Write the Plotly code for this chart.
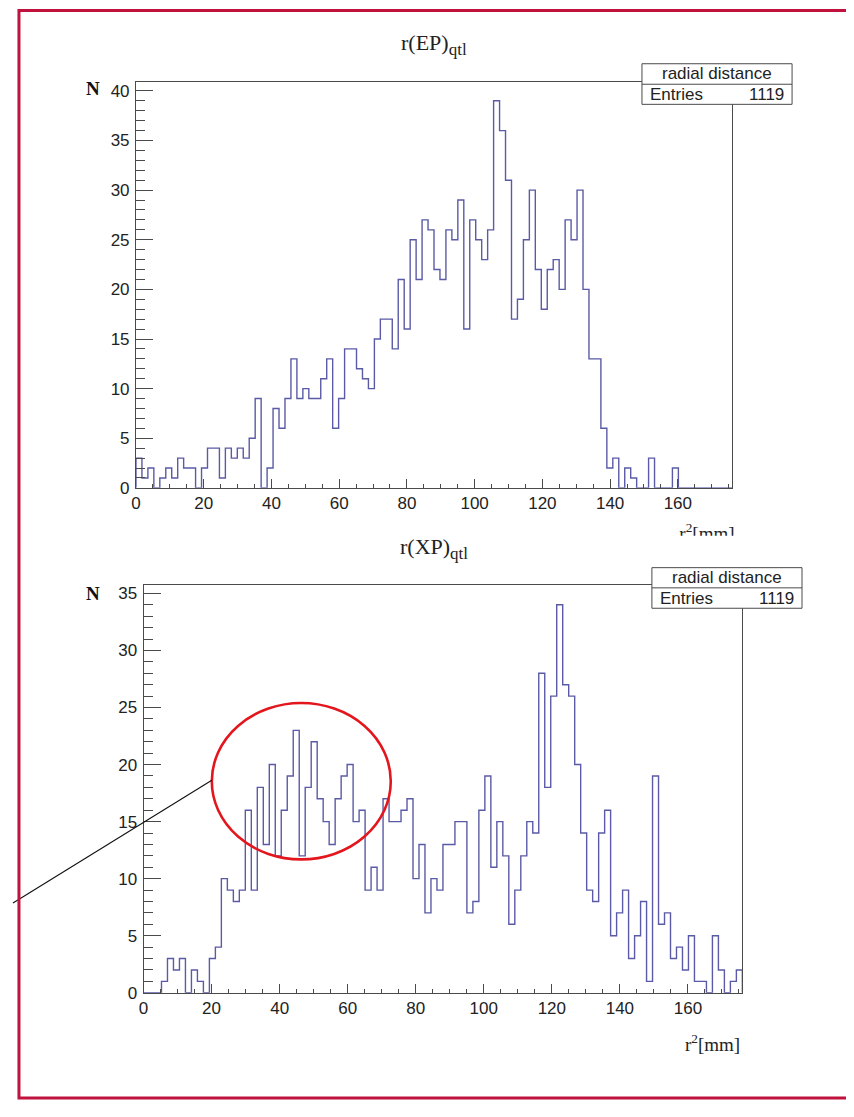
import plotly.graph_objects as go

# ---------------- data ----------------
n_bins = 100
x_min, x_max = 0.0, 176.0

ep_counts = [3, 1, 2, 0, 1, 2, 1, 3, 2, 2,
             0, 2, 4, 4, 1, 4, 3, 4, 3, 5,
             9, 0, 2, 8, 6, 9, 13, 9, 10, 9,
             9, 11, 13, 6, 9, 14, 14, 12, 11, 10,
             15, 17, 17, 14, 21, 16, 25, 21, 27, 26,
             22, 21, 26, 25, 29, 16, 27, 25, 23, 26,
             39, 36, 31, 17, 19, 25, 30, 22, 18, 22,
             23, 20, 27, 25, 30, 20, 13, 13, 6, 2,
             3, 0, 2, 1, 0, 0, 3, 0, 0, 0,
             2, 0, 0, 0, 0, 0, 0, 0, 0, 0]

xp_counts = [0, 0, 0, 1, 3, 2, 3, 0, 2, 1,
             0, 3, 4, 10, 9, 8, 9, 16, 9, 18,
             13, 20, 12, 16, 19, 23, 12, 18, 22, 17,
             15, 13, 17, 19, 20, 15, 16, 9, 11, 9,
             17, 15, 15, 16, 17, 10, 13, 7, 10, 9,
             13, 13, 15, 15, 7, 8, 16, 19, 11, 15,
             12, 6, 9, 12, 15, 14, 28, 18, 26, 34,
             27, 26, 20, 14, 9, 8, 14, 16, 5, 7,
             9, 3, 5, 8, 1, 19, 6, 7, 3, 4,
             2, 5, 1, 1, 0, 5, 2, 0, 1, 2]

titles = ["r(EP)", "r(XP)"]
title_sub = "qtl"
stat_name = "radial distance"
entries = 1119
x_ticks = [0, 20, 40, 60, 80, 100, 120, 140, 160]
ep_yticks = [0, 5, 10, 15, 20, 25, 30, 35, 40]
xp_yticks = [0, 5, 10, 15, 20, 25, 30, 35]

# ---------------- helpers ----------------
OFF = 8                      # default page body margin
W, H = 854 - OFF, 1117 - 2 * OFF
def px(x):
    return (x - OFF) / W
def py(y):
    return 1 - (y - OFF) / H

width = (x_max - x_min) / n_bins
edges = [x_min + i * width for i in range(n_bins + 1)]

def outline(counts):
    xs = [edges[0]] + edges[:-1] + [edges[-1], edges[-1]]
    ys = [0] + list(counts) + [counts[-1], 0]
    return xs, ys

line_col = "#5a5aa6"
axis_col = "#4a4a4a"
tick_font = dict(family="Liberation Sans, Arial, sans-serif", size=17, color="#222")
serif = "Liberation Serif, DejaVu Serif, serif"

fig = go.Figure()

for k, counts in enumerate([ep_counts, xp_counts]):
    xs, ys = outline(counts)
    fig.add_trace(go.Scatter(x=xs, y=ys, mode="lines", line=dict(color=line_col, width=1.4, shape="hv"),
                             xaxis="x" if k == 0 else "x2", yaxis="y" if k == 0 else "y2",
                             showlegend=False, hoverinfo="skip"))

xlabel = "r<sup>2</sup>[mm]"

# clipped (half-hidden) x label of the upper plot
fig.add_trace(go.Scatter(x=[0.51], y=[0.0], mode="text", text=[xlabel],
                         textfont=dict(family=serif, size=19, color="#222"),
                         textposition="middle center", cliponaxis=True,
                         xaxis="x3", yaxis="y3", showlegend=False, hoverinfo="skip"))

def xax(domain):
    return dict(domain=domain, range=[x_min, x_max], tickmode="array", tickvals=x_ticks,
                ticks="inside", ticklen=9, tickcolor=axis_col, tickwidth=1,
                minor=dict(dtick=5, tick0=0, ticks="inside", ticklen=4, tickcolor=axis_col),
                showline=True, linecolor=axis_col, linewidth=1, mirror=True,
                showgrid=False, zeroline=False, tickfont=tick_font, fixedrange=True)

def yax(domain, ymax, tv, anchor):
    return dict(domain=domain, range=[0, ymax], tickmode="array", tickvals=tv,
                ticks="inside", ticklen=17, tickcolor=axis_col, tickwidth=1,
                minor=dict(dtick=1, tick0=0, ticks="inside", ticklen=9, tickcolor=axis_col),
                showline=True, linecolor=axis_col, linewidth=1, mirror=True,
                showgrid=False, zeroline=False, tickfont=tick_font, anchor=anchor,
                ticklabelstandoff=2, fixedrange=True)

top_x = [px(131.7), px(731.3)]
top_y = [py(491.7), py(81.7)]
bot_x = [px(139.3), px(741.7)]
bot_y = [py(1001.7), py(590)]

layout = dict(
    width=W, height=H, margin=dict(l=0, r=0, t=0, b=0),
    paper_bgcolor="white", plot_bgcolor="white",
    xaxis=dict(xax(top_x), anchor="y"),
    yaxis=yax(top_y, 40.9, ep_yticks, "x"),
    xaxis2=dict(xax(bot_x), anchor="y2"),
    yaxis2=yax(bot_y, 35.72, xp_yticks, "x2"),
    xaxis3=dict(domain=[px(650), px(760)], range=[0, 1], visible=False, anchor="y3", fixedrange=True),
    yaxis3=dict(domain=[py(540), py(515)], range=[0, 1], visible=False, anchor="x3", fixedrange=True),
)
fig.update_layout(**layout)

shapes = []
annotations = []

# stats boxes
for (x0, x1, y0, ym, y1) in [(640.7, 791.7, 63.3, 84.0, 104.3), (650.7, 801.7, 572.3, 592.7, 613.3)]:
    shapes.append(dict(type="rect", xref="paper", yref="paper", x0=px(x0), x1=px(x1), y0=py(y1), y1=py(y0),
                       line=dict(color=axis_col, width=1), fillcolor="white", layer="above"))
    shapes.append(dict(type="line", xref="paper", yref="paper", x0=px(x0), x1=px(x1), y0=py(ym), y1=py(ym),
                       line=dict(color=axis_col, width=1), layer="above"))
    annotations.append(dict(xref="paper", yref="paper", x=px((x0 + x1) / 2), y=py((y0 + ym) / 2),
                            text=stat_name, showarrow=False, xanchor="center", yanchor="middle",
                            font=tick_font))
    annotations.append(dict(xref="paper", yref="paper", x=px(x0 + 6), y=py((ym + y1) / 2),
                            text="Entries", showarrow=False, xanchor="left", yanchor="middle",
                            font=tick_font))
    annotations.append(dict(xref="paper", yref="paper", x=px(x1 - 6), y=py((ym + y1) / 2),
                            text=str(entries), showarrow=False, xanchor="right", yanchor="middle",
                            font=tick_font))

# titles
for t, yy in zip(titles, [44, 553]):
    annotations.append(dict(xref="paper", yref="paper", x=px(431), y=py(yy),
                            text=t + "<sub><span style='font-size:17px'>" + title_sub + "</span></sub>",
                            showarrow=False, xanchor="center", yanchor="middle",
                            font=dict(family=serif, size=22, color="#222")))

# N labels
for yy in [88, 598]:
    annotations.append(dict(xref="paper", yref="paper", x=px(88), y=py(yy), text="<b>N</b>", showarrow=False,
                            xanchor="center", yanchor="middle",
                            font=dict(family=serif, size=19, color="#111")))

# bottom x label
annotations.append(dict(xref="paper", yref="paper", x=px(712), y=py(1052), text=xlabel,
                        showarrow=False, xanchor="center", yanchor="middle",
                        font=dict(family=serif, size=19, color="#222")))

# annotation ellipse and pointer line
shapes.append(dict(type="circle", xref="paper", yref="paper", x0=px(208), x1=px(388), y0=py(867), y1=py(709),
                   line=dict(color="#e3161d", width=2.6), layer="above"))
shapes.append(dict(type="line", xref="paper", yref="paper", x0=px(8), y0=py(911), x1=px(208), y1=py(787),
                   line=dict(color="#111", width=1.1), layer="above"))

# outer crimson frame
shapes.append(dict(type="rect", xref="paper", yref="paper", x0=px(14), x1=px(848), y0=py(1108), y1=py(9.6),
                   line=dict(color="#c0123c", width=3), fillcolor="rgba(0,0,0,0)", layer="above"))

fig.update_layout(shapes=shapes, annotations=annotations)
fig.write_html("out.html")
